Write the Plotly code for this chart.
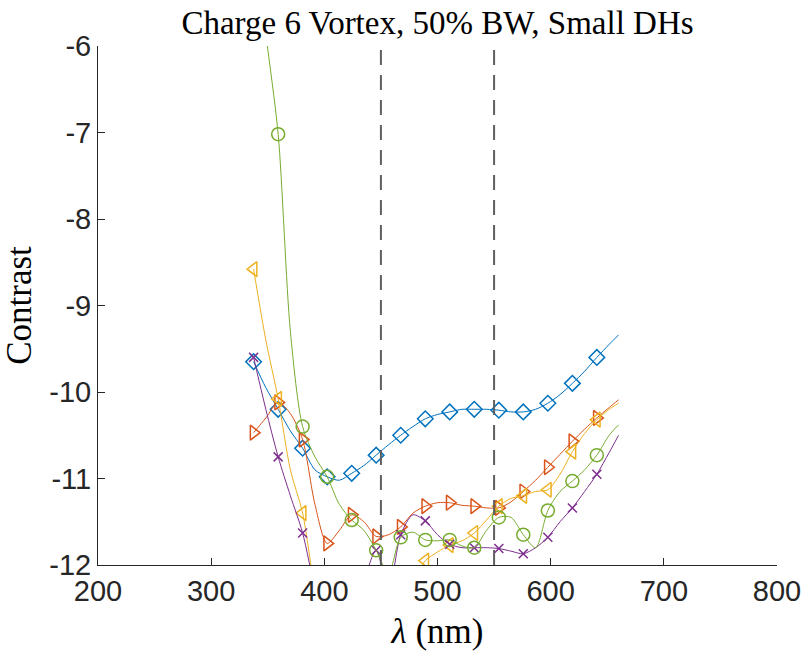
import plotly.graph_objects as go

# wavelength samples (nm); markers on every other sample
wavelength = [337.5, 348.3, 359.2, 370.0, 380.8, 391.7, 402.5, 413.3, 424.2, 435.0,
              445.8, 456.7, 467.5, 478.3, 489.2, 500.0, 510.8, 521.7, 532.5, 543.3,
              554.2, 565.0, 575.8, 586.7, 597.5, 608.3, 619.2, 630.0, 640.8, 651.7, 660.0]

blue = [-9.65, -9.95, -10.20, -10.45, -10.65, -10.90, -10.98, -11.02, -10.94, -10.85,
        -10.73, -10.61, -10.50, -10.40, -10.31, -10.26, -10.23, -10.20, -10.20, -10.20,
        -10.21, -10.23, -10.23, -10.20, -10.13, -10.03, -9.90, -9.76, -9.60, -9.45, -9.34]

orange = [-10.47, -10.30, -10.12, -10.25, -10.55, -11.30, -11.75, -11.60, -11.42, -11.50,
          -11.67, -11.65, -11.56, -11.40, -11.32, -11.28, -11.28, -11.31, -11.32, -11.34,
          -11.34, -11.27, -11.15, -11.02, -10.87, -10.72, -10.57, -10.43, -10.30, -10.18, -10.09]

yellow = [-8.58, -9.40, -10.08, -10.90, -11.40, -12.30, -13.00, -13.40, -13.60, -13.60,
          -13.40, -13.00, -12.60, -12.20, -11.95, -11.85, -11.77, -11.72, -11.63, -11.48,
          -11.32, -11.23, -11.20, -11.15, -11.13, -10.95, -10.69, -10.48, -10.32, -10.20, -10.13]

purple = [-9.60, -10.20, -10.75, -11.20, -11.63, -12.30, -13.00, -13.00, -12.80, -12.20,
          -11.83, -12.30, -11.65, -11.42, -11.49, -11.65, -11.76, -11.80, -11.80, -11.80,
          -11.81, -11.84, -11.87, -11.80, -11.68, -11.50, -11.34, -11.15, -10.95, -10.70, -10.50]

green = [-4.50, -5.85, -7.02, -9.30, -10.40, -10.75, -10.98, -11.30, -11.48, -11.60,
         -11.83, -12.10, -11.68, -11.62, -11.71, -11.72, -11.71, -11.78, -11.80, -11.60,
         -11.45, -11.45, -11.65, -11.80, -11.37, -11.15, -11.03, -10.90, -10.73, -10.50, -10.38]

band_edges = [450, 550]
x_ticks = [200, 300, 400, 500, 600, 700, 800]
y_ticks = [-12, -11, -10, -9, -8, -7, -6]
y_tick_labels = ["-12", "-11", "-10", "-9", "-8", "-7", "-6"]

series = [
    (blue, "#0072BD", "diamond-open", 12),
    (orange, "#D95319", "triangle-right-open", 13),
    (yellow, "#EDB120", "triangle-left-open", 13),
    (purple, "#7E2F8E", "x-thin-open", 9),
    (green, "#77AC30", "circle-open", 13),
]

fig = go.Figure()
for vals, color, symbol, size in series:
    fig.add_trace(go.Scatter(
        x=wavelength, y=vals, mode="lines",
        line=dict(color=color, width=1, shape="spline", smoothing=0.8),
        showlegend=False, hoverinfo="skip"))
    fig.add_trace(go.Scatter(
        x=wavelength[0:29:2], y=vals[0:29:2], mode="markers",
        marker=dict(symbol=symbol, size=size, color=color,
                    line=dict(color=color, width=1.5)),
        showlegend=False))

for xv in band_edges:
    fig.add_trace(go.Scatter(
        x=[xv, xv], y=[y_ticks[0], y_ticks[-1]], mode="lines",
        line=dict(color="#5f5f5f", width=2, dash="15px,10px"),
        showlegend=False, hoverinfo="skip"))

axis_color = "#262626"
tick_font = dict(family="Liberation Sans", size=29, color="#262626")
fig.update_layout(
    width=805, height=659,
    margin=dict(l=98, r=28, t=46, b=94),
    paper_bgcolor="white", plot_bgcolor="white",
    title=dict(text="Charge 6 Vortex, 50% BW, Small DHs",
               x=0.5435, xanchor="center", y=0.966, yanchor="middle",
               font=dict(family="Liberation Serif", size=33, color="black")),
    xaxis=dict(range=[200, 800], tickvals=x_ticks, automargin=False,
               showgrid=False, zeroline=False, showline=True, linecolor=axis_color,
               linewidth=1, ticks="inside", ticklen=7, tickcolor=axis_color,
               tickfont=tick_font,
               title=dict(text="<i>λ</i> (nm)", standoff=12,
                          font=dict(family="Liberation Serif", size=35, color="black"))),
    yaxis=dict(range=[-12, -6], tickvals=y_ticks, ticktext=y_tick_labels, automargin=False,
               showgrid=False, zeroline=False, showline=True, linecolor=axis_color,
               linewidth=1, ticks="inside", ticklen=7, tickcolor=axis_color,
               tickfont=tick_font,
               title=dict(text="Contrast", standoff=8,
                          font=dict(family="Liberation Serif", size=35, color="black"))),
)

fig.write_html("out.html")
